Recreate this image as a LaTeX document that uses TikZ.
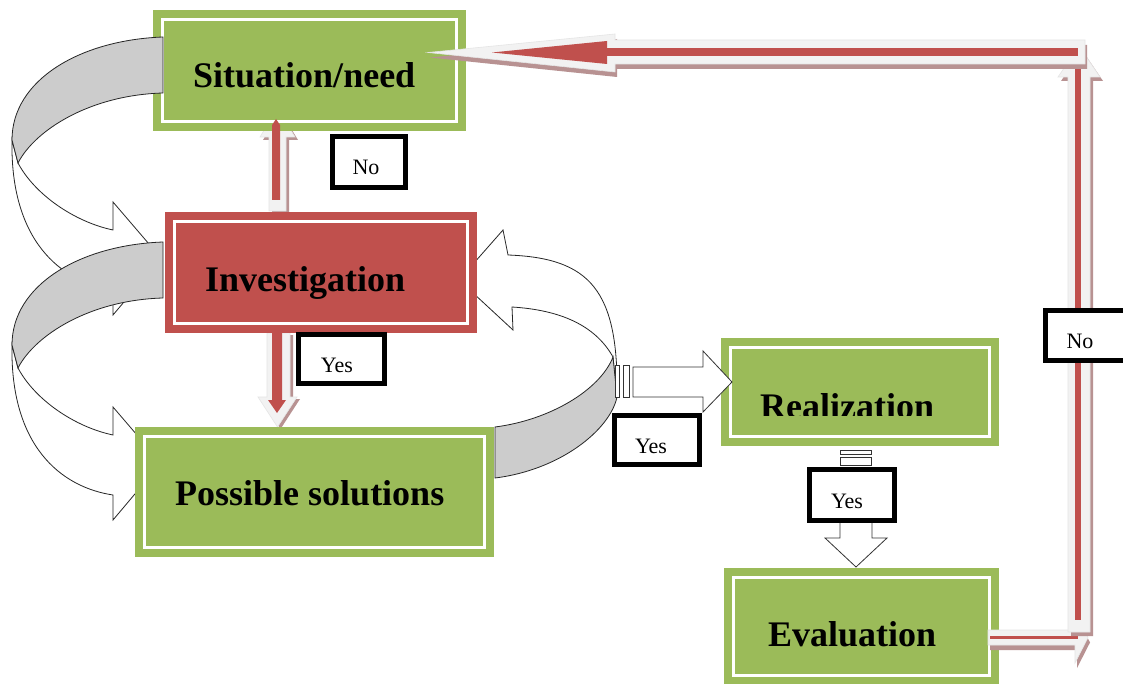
\documentclass[tikz,border=0pt]{standalone}
\usepackage{fontspec}
\setmainfont{Liberation Serif}
\definecolor{bgreen}{HTML}{9BBB59}
\definecolor{bred}{HTML}{C0504D}
\definecolor{lightf}{HTML}{F2F2F2}
\definecolor{shadowc}{HTML}{B89292}
\definecolor{ribgray}{HTML}{CCCCCC}
\tikzset{
 gbox/.style={fill=bgreen, draw=none, inner sep=0pt, outer sep=0pt},
 rbox/.style={fill=bred, draw=none, inner sep=0pt, outer sep=0pt},
 inline/.style={draw=white, line width=3pt},
 boxtext/.style={font=\fontsize{36}{40}\selectfont\bfseries, inner sep=0pt, anchor=base west},
 lbl/.style={draw=black, line width=5pt, fill=white, inner sep=0pt, outer sep=0pt},
 lbltext/.style={font=\fontsize{22}{24}\selectfont, inner sep=0pt, anchor=base},
 ribbonw/.style={fill=white, draw=black!85, line width=0.8pt},
 ribbong/.style={fill=ribgray, draw=black!85, line width=0.8pt},
 lightarrow/.style={fill=lightf, draw=black!10, line width=0.6pt},
 shadowarrow/.style={fill=shadowc, draw=none},
 redcore/.style={fill=bred, draw=none},
 striped/.style={fill=white, draw=black!80, line width=0.8pt},
}
\begin{document}
\begin{tikzpicture}[x=1pt,y=-1pt]
\useasboundingbox (0,0) rectangle (1123,684);
\fill[white] (0,0) rectangle (1123,684);

% ---- ribbon 1 (Situation -> Investigation), white face
\path[ribbonw] (12,140) .. controls (10,240) and (60,282) .. (113,290) -- (113,315) -- (161,258)
  -- (113,202) -- (113,230) .. controls (75,222) and (35,195) .. (18,163) -- cycle;
% ---- ribbon 2 (Investigation -> Possible solutions)
\begin{scope}[shift={(0,205)}]
\path[ribbonw] (12,140) .. controls (10,240) and (60,282) .. (113,290) -- (113,315) -- (161,258)
  -- (113,202) -- (113,230) .. controls (75,222) and (35,195) .. (18,163) -- cycle;
\path[ribbong] (163,37) .. controls (80,40) and (12,80) .. (12,140) -- (18,163)
  .. controls (35,130) and (90,95) .. (163,93) -- cycle;
\end{scope}
% ---- ribbon 3 (Possible solutions -> Investigation)
\path[ribbonw] (617,397) .. controls (619,290) and (590,258) .. (508,255) -- (503,230) -- (459,280)
  -- (513,330) -- (512,307) .. controls (560,310) and (595,325) .. (613,357) -- cycle;
\path[ribbong] (495,427) .. controls (550,420) and (600,390) .. (613,357) -- (617,397)
  .. controls (610,430) and (560,470) .. (495,478) -- cycle;

% ---- arrow A (Investigation -> Situation), body
\path[shadowarrow, shift={(3,3)}] (269,211) -- (269,137) -- (260,137) -- (277.5,108) -- (295,137) -- (286,137) -- (286,211) -- cycle;
\path[lightarrow] (269,211) -- (269,137) -- (260,137) -- (277.5,108) -- (295,137) -- (286,137) -- (286,211) -- cycle;
% ---- arrow B (Investigation -> Possible solutions)
\path[shadowarrow, shift={(3,2)}] (267,333) -- (267,397) -- (258,397) -- (277.5,427) -- (297,397) -- (290,397) -- (290,333) -- cycle;
\path[lightarrow] (267,333) -- (267,397) -- (258,397) -- (277.5,427) -- (297,397) -- (290,397) -- (290,333) -- cycle;
\path[redcore] (272,333) -- (272,400) -- (268,400) -- (277,413) -- (286,400) -- (282,400) -- (282,333) -- cycle;

% ---- boxes
\node[gbox, minimum width=313pt, minimum height=121pt] (sit) at (309.5,70.5) {};
\node[rbox, minimum width=312pt, minimum height=121pt] (inv) at (321,272.5) {};
\node[gbox, minimum width=359pt, minimum height=130pt] (pos) at (314.5,492) {};
\node[gbox, minimum width=278pt, minimum height=108pt] (rea) at (860,392) {};
\node[gbox, minimum width=275pt, minimum height=117pt] (eva) at (861.5,626.5) {};
\foreach \n in {sit,inv,pos,rea,eva}
  \draw[inline] ([shift={(9.5,9.5)}]\n.north west) rectangle ([shift={(-9.5,-9.5)}]\n.south east);

% ---- ribbon 1 back face (over box border)
\path[ribbong] (163,37) .. controls (80,40) and (12,80) .. (12,140) -- (18,163)
  .. controls (35,130) and (90,95) .. (163,93) -- cycle;

% ---- arrow A red core
\path[redcore] (272,200) -- (272,125) -- (276,119) -- (280,125) -- (280,200) -- cycle;

% ---- box texts
\node[boxtext] (tsit) at (193,88) {Situation/need};
\node[boxtext] (tinv) at (205,291) {Investigation};
\node[boxtext] (tpos) at (175,505) {Possible solutions};
\begin{scope}
\clip (700,370) rectangle (1000,415.5);
\node[boxtext] (trea) at (760,418) {Realization};
\end{scope}
\node[boxtext] (teva) at (768,646) {Evaluation};

% ---- arrow E (Evaluation -> right)
\path[shadowarrow, shift={(2,5)}] (988,630) -- (1075,630) -- (1075,612) -- (1088,637.5) -- (1075,663) -- (1075,645) -- (988,645) -- cycle;
\path[lightarrow] (988,630) -- (1075,630) -- (1075,612) -- (1088,637.5) -- (1075,663) -- (1075,645) -- (988,645) -- cycle;
\path[redcore] (990,636.3) rectangle (1078,638.7);
% ---- arrow D (up the right side)
\path[shadowarrow, shift={(3,4)}] (1068,632) -- (1068,77) -- (1058,77) -- (1079,46) -- (1100,77) -- (1090,77) -- (1090,632) -- cycle;
\path[lightarrow] (1068,632) -- (1068,77) -- (1058,77) -- (1079,46) -- (1100,77) -- (1090,77) -- (1090,632) -- cycle;
\path[redcore] (1075,67) rectangle (1081,620);
% ---- arrow C (top, back to Situation/need)
\path[shadowarrow, shift={(2,5)}] (1085,40) -- (615,40) -- (615,34) -- (428,52.5) -- (615,72) -- (615,64) -- (1085,64) -- cycle;
\path[lightarrow] (1085,40) -- (615,40) -- (615,34) -- (428,52.5) -- (615,72) -- (615,64) -- (1085,64) -- cycle;
\path[redcore] (607,48.5) rectangle (1078,56);
\path[redcore] (607,41) -- (492,52.5) -- (607,64) -- cycle;

% ---- striped arrow to Realization
\draw[striped] (615,365) rectangle (619,397);
\draw[striped] (623,365) rectangle (629,397);
\draw[striped] (633,367) -- (703,367) -- (703,351) -- (732,382) -- (703,412) -- (703,397) -- (633,397) -- cycle;
% ---- striped arrow to Evaluation
\draw[striped] (840,450) rectangle (871,454);
\draw[striped] (840,457) rectangle (871,465);
\draw[striped] (840,468) -- (840,538) -- (825,538) -- (856,567) -- (887,538) -- (872,538) -- (872,468) -- cycle;

% ---- labels
\node[lbl, minimum width=73pt, minimum height=51pt] (no1) at (369,162) {};
\node[lbltext] (tno1) at (366,175) {No};
\node[lbl, minimum width=86pt, minimum height=49pt] (yes1) at (341.5,359) {};
\node[lbltext] (tyes1) at (337,372) {Yes};
\node[lbl, minimum width=85pt, minimum height=49pt] (yes2) at (657,440) {};
\node[lbltext] (tyes2) at (651,453) {Yes};
\node[lbl, minimum width=85pt, minimum height=51pt] (yes3) at (852,495) {};
\node[lbltext] (tyes3) at (847,508) {Yes};
\node[lbl, minimum width=84.5pt, minimum height=50pt] (no2) at (1087.75,335.5) {};
\node[lbltext] (tno2) at (1080,348) {No};
\end{tikzpicture}
\end{document}
